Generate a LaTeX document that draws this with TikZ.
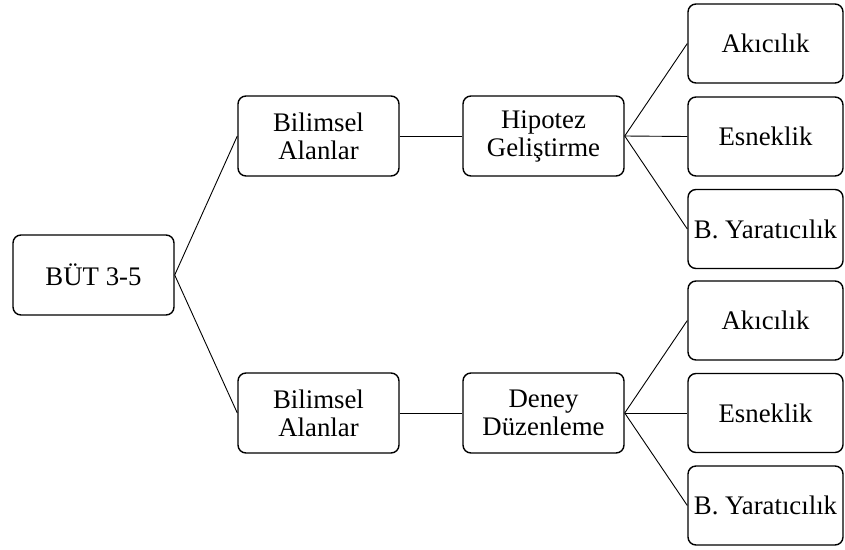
\documentclass[tikz,border=0pt]{standalone}
\usepackage{fontspec}
\setmainfont{Liberation Serif}
\begin{document}
\begin{tikzpicture}[x=1pt,y=-1pt,
  box/.style={draw, line width=1.4pt, rounded corners=8pt, minimum width=161pt, minimum height=80pt, inner sep=0pt, align=center, font=\fontsize{26.8}{28}\selectfont},
  rbox/.style={box, minimum width=155pt, minimum height=79pt},
  conn/.style={line width=0.9pt}]
\useasboundingbox (0,0) rectangle (845,549);
\node[box] (but) at (93.5,275) {BÜT 3-5};
\node[box] (b1) at (318.5,136) {Bilimsel\\Alanlar};
\node[box] (b2) at (318.5,413) {Bilimsel\\Alanlar};
\node[box] (hip) at (543.5,136) {Hipotez\\Geliştirme};
\node[box] (den) at (543.5,413) {Deney\\Düzenleme};
\node[rbox] (a1) at (765.5,43.5) {Akıcılık};
\node[rbox] (e1) at (765.5,136.5) {Esneklik};
\node[rbox] (y1) at (765.5,229) {B. Yaratıcılık};
\node[rbox] (a2) at (765.5,320.5) {Akıcılık};
\node[rbox] (e2) at (765.5,413) {Esneklik};
\node[rbox] (y2) at (765.5,505.5) {B. Yaratıcılık};
\draw[conn] (but.east) -- (b1.west);
\draw[conn] (but.east) -- (b2.west);
\draw[conn] (b1.east) -- (hip.west);
\draw[conn] (b2.east) -- (den.west);
\draw[conn] (hip.east) -- (a1.west);
\draw[conn] (hip.east) -- (e1.west);
\draw[conn] (hip.east) -- (y1.west);
\draw[conn] (den.east) -- (a2.west);
\draw[conn] (den.east) -- (e2.west);
\draw[conn] (den.east) -- (y2.west);
\end{tikzpicture}
\end{document}
